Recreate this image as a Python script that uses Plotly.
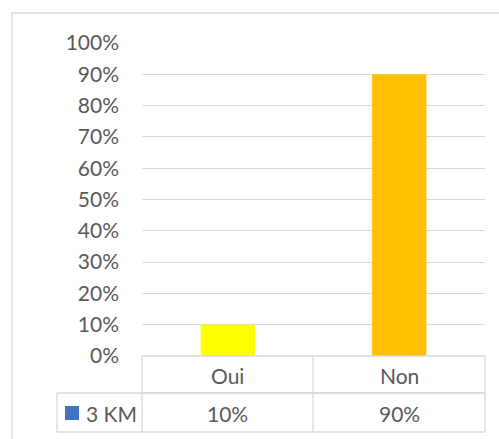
import plotly.graph_objects as go

categories = ["Oui", "Non"]
values = [0.10, 0.90]
bar_colors = ["#FFFF00", "#FFC000"]
series_name = "3 KM"
series_color = "#4472C4"
y_ticks = [0, 0.1, 0.2, 0.3, 0.4, 0.5, 0.6, 0.7, 0.8, 0.9, 1.0]
y_tick_labels = ["0%", "10%", "20%", "30%", "40%", "50%", "60%", "70%", "80%", "90%", "100%"]

W, H = 499, 439
ML, MR, MT, MB = 142, 14, 43, 83
PW, PH = W - ML - MR, H - MT - MB

def px(x):
    return (x - ML) / PW

def py(y):
    return (H - MB - y) / PH

TXT = "#595959"
GRID = "#D9D9D9"
FONT = "Lato"
FS = 21

fig = go.Figure()
fig.add_trace(go.Bar(
    x=categories, y=values, marker=dict(color=bar_colors, line=dict(width=0)),
    width=0.316, name=series_name, showlegend=False, hoverinfo="skip",
))

shapes = []
line = dict(color=GRID, width=1.3)
# outer chart border
shapes.append(dict(type="rect", xref="paper", yref="paper", x0=px(12), x1=px(520), y0=py(460), y1=py(13),
                   line=dict(color=GRID, width=1.3), layer="below"))
# data table lines
for (x0, x1, y0, y1) in [
    (142, 485, 356, 356), (142, 485, 393, 393), (57, 485, 393, 393), (57, 485, 432, 432),
    (142, 142, 356, 432), (313, 313, 356, 432), (485, 485, 356, 432), (57, 57, 393, 432),
]:
    shapes.append(dict(type="line", xref="paper", yref="paper", x0=px(x0), x1=px(x1), y0=py(y0), y1=py(y1), line=line))
# legend key
shapes.append(dict(type="rect", xref="paper", yref="paper", x0=px(65), x1=px(79), y0=py(420), y1=py(406),
                   fillcolor=series_color, line=dict(width=0)))

annotations = []
for i, c in enumerate(categories):
    annotations.append(dict(x=c, y=py(375), xref="x", yref="paper", text=c, showarrow=False,
                            font=dict(family=FONT, size=FS, color=TXT), xanchor="center", yanchor="middle"))
    annotations.append(dict(x=c, y=py(413), xref="x", yref="paper", text=f"{round(values[i]*100)}%", showarrow=False,
                            font=dict(family=FONT, size=FS, color=TXT), xanchor="center", yanchor="middle"))
annotations.append(dict(x=px(84), y=py(413), xref="paper", yref="paper", text=series_name, showarrow=False,
                        font=dict(family=FONT, size=FS, color=TXT), xanchor="left", yanchor="middle"))

fig.update_layout(
    width=W, height=H, margin=dict(l=ML, r=MR, t=MT, b=MB),
    paper_bgcolor="white", plot_bgcolor="white",
    shapes=shapes, annotations=annotations, showlegend=False,
    xaxis=dict(showticklabels=False, showgrid=False, zeroline=False, showline=False, ticks=""),
    yaxis=dict(range=[0, 1], tickvals=y_ticks, ticktext=y_tick_labels, showgrid=True, gridcolor=GRID,
               gridwidth=1.3, zeroline=False, showline=False, ticks="", ticklabelstandoff=22,
               automargin=False, tickfont=dict(family=FONT, size=FS, color=TXT)),
)

fig.write_html("out.html", config={"displayModeBar": False},
               post_script="document.body.style.margin='0';document.body.style.padding='0';")
